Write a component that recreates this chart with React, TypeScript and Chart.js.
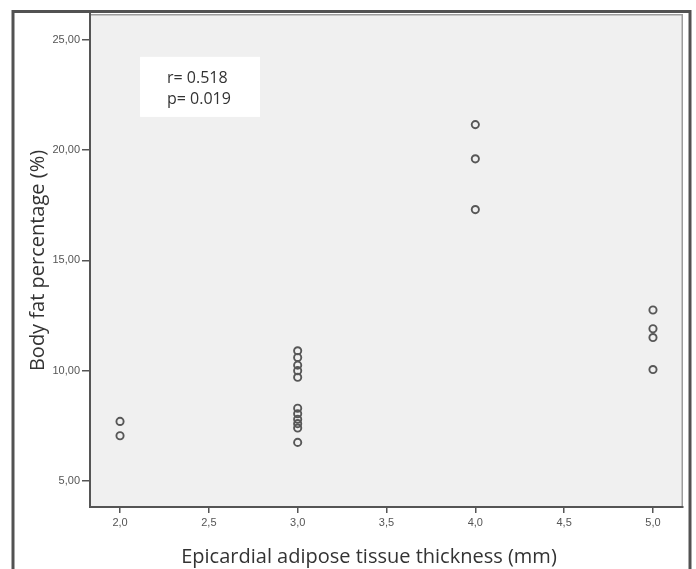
import React, { useEffect, useRef } from 'react';
import { Chart, registerables } from 'chart.js';

Chart.register(...registerables);

// ---- data ----
const epatThickness = [2, 2, 3, 3, 3, 3, 3, 3, 3, 3, 3, 3, 3, 4, 4, 4, 5, 5, 5, 5];
const bodyFatPct = [7.7, 7.05, 10.9, 10.6, 10.25, 10.0, 9.7, 8.3, 8.05, 7.8, 7.6, 7.4, 6.75, 21.15, 19.6, 17.3, 12.75, 11.9, 11.5, 10.05];
const xTicks = [2, 2.5, 3, 3.5, 4, 4.5, 5];
const yTicks = [5, 10, 15, 20, 25];
const statLines = ['r= 0.518', 'p= 0.019'];
const xTitle = 'Epicardial adipose tissue thickness (mm)';
const yTitle = 'Body fat percentage (%)';

// ---- layout / style ----
const X_MIN = 1.831;
const X_MAX = 5.169;
const Y_MIN = 3.822;
const Y_MAX = 26.163;
const STAT_BOX = { x0: 2.1126, x1: 2.788, y0: 24.22, y1: 21.5 };
const STAT_TEXT_X = 2.2645;
const STAT_TEXT_Y = [23.26, 22.27];
const TITLE_FONT = '"Open Sans", Lato, sans-serif';
const TICK_FONT = '"Liberation Sans", Arial, sans-serif';

const framePlugin = {
  id: 'framePlugin',
  beforeDraw(chart: any) {
    const { ctx, chartArea: a, width, height } = chart;
    ctx.save();
    ctx.fillStyle = '#ffffff';
    ctx.fillRect(0, 0, width, height);
    ctx.strokeStyle = '#525252';
    ctx.lineWidth = 3;
    ctx.strokeRect(13, 11.5, 677, 620);
    ctx.fillStyle = '#f0f0f0';
    ctx.fillRect(a.left, a.top, a.right - a.left, a.bottom - a.top);
    ctx.strokeStyle = '#9c9c9c';
    ctx.lineWidth = 1.5;
    ctx.beginPath();
    ctx.moveTo(a.left, a.top + 0.75);
    ctx.lineTo(a.right - 0.75, a.top + 0.75);
    ctx.lineTo(a.right - 0.75, a.bottom);
    ctx.stroke();
    ctx.restore();
  },
  beforeDatasetsDraw(chart: any) {
    const { ctx } = chart;
    const xs = chart.scales.x;
    const ys = chart.scales.y;
    const x0 = xs.getPixelForValue(STAT_BOX.x0);
    const x1 = xs.getPixelForValue(STAT_BOX.x1);
    const y0 = ys.getPixelForValue(STAT_BOX.y0);
    const y1 = ys.getPixelForValue(STAT_BOX.y1);
    ctx.save();
    ctx.fillStyle = '#ffffff';
    ctx.fillRect(x0, y0, x1 - x0, y1 - y0);
    ctx.fillStyle = '#333333';
    ctx.font = '16px ' + TITLE_FONT;
    ctx.textAlign = 'left';
    ctx.textBaseline = 'middle';
    statLines.forEach((t, i) => {
      ctx.fillText(t, xs.getPixelForValue(STAT_TEXT_X), ys.getPixelForValue(STAT_TEXT_Y[i]));
    });
    ctx.restore();
  },
  afterDraw(chart: any) {
    const { ctx } = chart;
    ctx.save();
    ctx.fillStyle = '#333333';
    ctx.font = '20px ' + TITLE_FONT;
    ctx.textAlign = 'center';
    ctx.textBaseline = 'middle';
    ctx.fillText(xTitle, 369, 557);
    ctx.restore();
  },
};

export default function App() {
  const ref = useRef<HTMLCanvasElement>(null);

  useEffect(() => {
    if (!ref.current) return;
    const points = epatThickness.map((x, i) => ({ x, y: bodyFatPct[i] }));
    const chart = new Chart(ref.current, {
      type: 'scatter',
      data: {
        datasets: [
          {
            data: points,
            pointStyle: 'circle',
            pointRadius: 3.6,
            pointBorderWidth: 1.9,
            borderColor: '#575757',
            backgroundColor: 'rgba(0,0,0,0)',
            pointHoverRadius: 3.6,
          },
        ],
      },
      options: {
        responsive: false,
        animation: false,
        devicePixelRatio: 1,
        layout: { padding: { top: 14, right: 13, left: 0, bottom: 0 } },
        plugins: { legend: { display: false }, tooltip: { enabled: false } },
        scales: {
          x: {
            type: 'linear',
            min: X_MIN,
            max: X_MAX,
            afterBuildTicks: (s: any) => {
              s.ticks = xTicks.map((v) => ({ value: v }));
            },
            afterFit: (s: any) => {
              s.height = 62;
            },
            ticks: {
              autoSkip: false,
              maxRotation: 0,
              padding: 3,
              color: '#555555',
              font: { family: TICK_FONT, size: 11 },
              callback: (v: any) => Number(v).toFixed(1).replace('.', ','),
            },
            grid: { drawOnChartArea: false, drawTicks: true, tickLength: 6, color: '#555555', lineWidth: 1.5 },
            border: { display: true, color: '#555555', width: 2 },
          },
          y: {
            type: 'linear',
            min: Y_MIN,
            max: Y_MAX,
            afterBuildTicks: (s: any) => {
              s.ticks = yTicks.map((v) => ({ value: v }));
            },
            afterFit: (s: any) => {
              s.width = 90;
            },
            ticks: {
              autoSkip: false,
              padding: 2,
              color: '#555555',
              font: { family: TICK_FONT, size: 11 },
              callback: (v: any) => Number(v).toFixed(2).replace('.', ','),
            },
            grid: { drawOnChartArea: false, drawTicks: true, tickLength: 8, color: '#555555', lineWidth: 1.5 },
            border: { display: true, color: '#555555', width: 2 },
            title: {
              display: true,
              text: yTitle,
              color: '#333333',
              font: { family: TITLE_FONT, size: 20 },
              padding: { top: 26, bottom: 0 },
            },
          },
        },
      },
      plugins: [framePlugin],
    });
    return () => chart.destroy();
  }, []);

  return (
    <div style={{ position: 'absolute', left: 0, top: 0, width: 696, height: 569 }}>
      <canvas ref={ref} width={696} height={569} style={{ display: 'block' }} />
    </div>
  );
}
